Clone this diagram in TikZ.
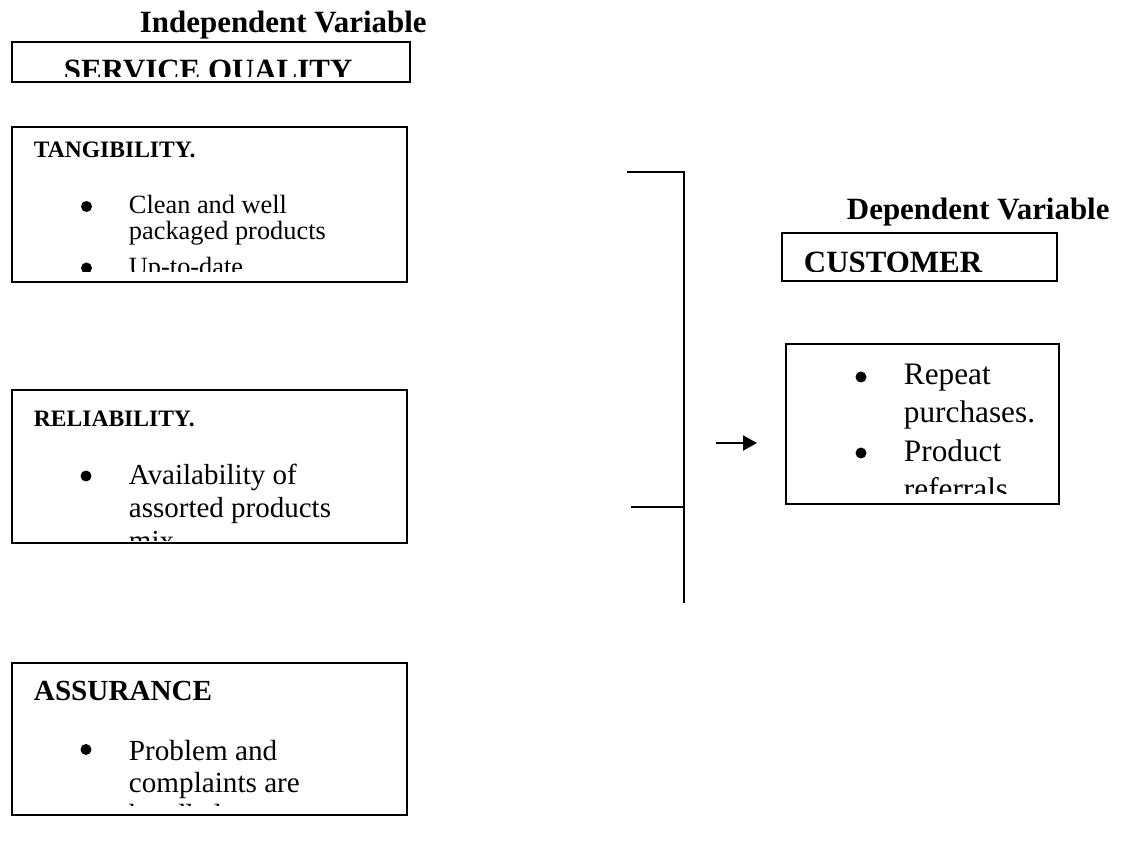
\documentclass[tikz,border=0pt]{standalone}
\usepackage{fontspec}
\setmainfont{Liberation Serif}
\usetikzlibrary{arrows.meta,fit}
\tikzset{
    varbox/.style={draw, line width=1.1pt, inner sep=0pt}, % frame of each box
    hdr/.style={anchor=base west, inner sep=0pt, font=\bfseries\fontsize{17.6}{20}\selectfont}, % big bold titles
    sub/.style={anchor=base west, inner sep=0pt, font=\bfseries\fontsize{13.4}{16}\selectfont}, % small bold titles
    item/.style={anchor=base west, inner sep=0pt}, % one line of a bullet list
    dot/.style={circle, fill, inner sep=0pt, minimum size=0.22cm} % list bullet
}

\begin{document}
\begin{tikzpicture}[x=0.02cm, y=-0.02cm, line width=1.1pt]
    \useasboundingbox (0,0) rectangle (1123,844);

    % independent variable
    \node[hdr] (indep) at (139,33) {Independent Variable};
    \node[varbox, fit={(12,42) (410,82)}] (sq) {};
    \begin{scope}
        \clip (12,42) rectangle (410,77);
        \node[hdr] (sqtxt) at (63,80.5) {SERVICE QUALITY};
    \end{scope}

    % tangibility
    \node[varbox, fit={(12,127) (407,282)}] (tang) {};
    \node[sub] (tanghd) at (33,158) {TANGIBILITY.};
    \begin{scope}[font=\fontsize{15}{18}\selectfont]
        \clip (12,127) rectangle (407,272);
        \foreach \y/\txt [count=\i] in {214/Clean and well, 240/packaged products, 276/Up-to-date}
            \node[item] (tang\i) at (128,\y) {\txt};
        \foreach \y [count=\i] in {206.5,268}
            \node[dot] (tangb\i) at (86.5,\y) {};
    \end{scope}

    % reliability
    \node[varbox, fit={(12,390) (407,543)}] (reli) {};
    \node[sub] (relihd) at (33,427) {RELIABILITY.};
    \begin{scope}[font=\fontsize{16.5}{20}\selectfont]
        \clip (12,390) rectangle (407,541);
        \foreach \y/\txt [count=\i] in {485/Availability of, 518/assorted products, 551/mix}
            \node[item] (reli\i) at (128,\y) {\txt};
        \node[dot] (relib1) at (86,476) {};
    \end{scope}

    % assurance
    \node[varbox, fit={(12,663) (407,815)}] (assu) {};
    \node[sub, font=\bfseries\fontsize{16.6}{20}\selectfont] (assuhd) at (33,700) {ASSURANCE};
    \begin{scope}[font=\fontsize{16.6}{20}\selectfont]
        \clip (12,663) rectangle (407,805);
        \foreach \y/\txt [count=\i] in {760/Problem and, 792/complaints are, 824/handled}
            \node[item] (assu\i) at (128,\y) {\txt};
        \node[dot] (assub1) at (86,749.5) {};
    \end{scope}

    % bracket and arrow
    \coordinate (brtop) at (627,172);
    \coordinate (brcorner) at (684,172);
    \coordinate (brend) at (684,603);
    \coordinate (brmid) at (631,507);
    \coordinate (brjoin) at (684,507);
    \draw (brtop) -- (brcorner) -- (brend);
    \draw (brmid) -- (brjoin);
    \coordinate (arrfrom) at (716,443);
    \coordinate (arrto) at (757,443);
    \draw[-{Triangle[length=0.28cm, width=0.3cm]}] (arrfrom) -- (arrto);

    % dependent variable
    \node[hdr] (dep) at (846,220) {Dependent Variable};
    \node[varbox, fit={(782,233) (1057,281)}] (cust) {};
    \begin{scope}
        \clip (782,233) rectangle (1057,272);
        \node[hdr] (custtxt) at (803,273) {CUSTOMER};
    \end{scope}

    \node[varbox, fit={(786,344) (1059,504)}] (loyal) {};
    \begin{scope}[font=\fontsize{17.8}{21}\selectfont]
        \clip (786,344) rectangle (1059,494);
        \foreach \y/\txt [count=\i] in {385/Repeat, 423/purchases., 462/Product, 500/referrals}
            \node[item] (loyal\i) at (903,\y) {\txt};
        \foreach \y [count=\i] in {377,453}
            \node[dot] (loyalb\i) at (861,\y) {};
    \end{scope}
\end{tikzpicture}
\end{document}
